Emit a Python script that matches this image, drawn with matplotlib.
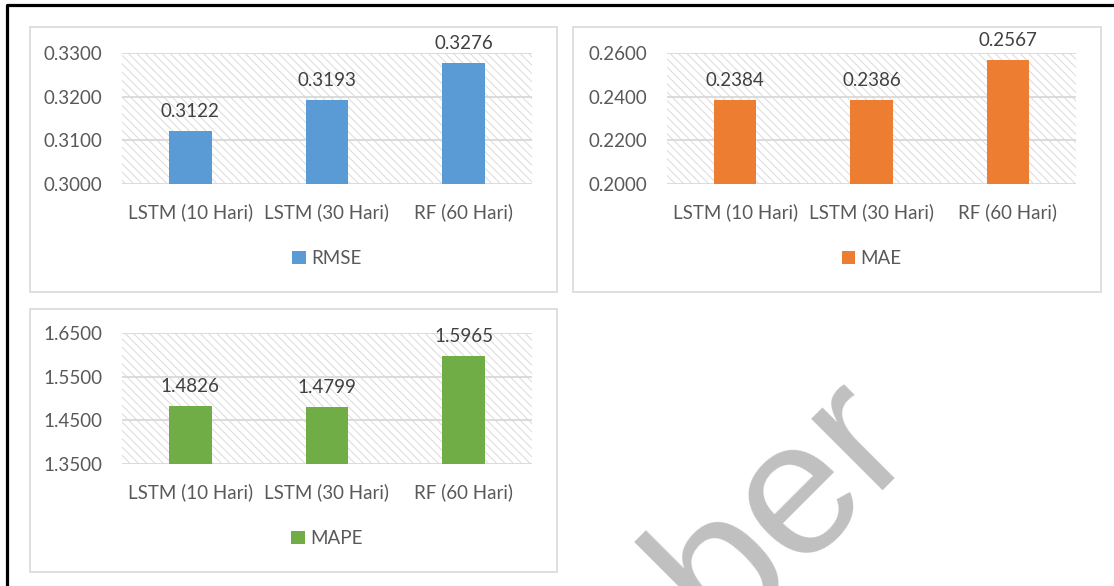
import matplotlib.pyplot as plt
from matplotlib.patches import Rectangle
from matplotlib.lines import Line2D

categories = ['LSTM (10 Hari)', 'LSTM (30 Hari)', 'RF (60 Hari)']

rmse = [0.3122, 0.3193, 0.3276]
mae = [0.2384, 0.2386, 0.2567]
mape = [1.4826, 1.4799, 1.5965]

rmse_ticks = [0.3000, 0.3100, 0.3200, 0.3300]
mae_ticks = [0.2000, 0.2200, 0.2400, 0.2600]
mape_ticks = [1.3500, 1.4500, 1.5500, 1.6500]

W, H = 1114, 586
plt.rcParams['font.family'] = ['Lato', 'DejaVu Sans']
plt.rcParams['hatch.linewidth'] = 0.7

fig = plt.figure(figsize=(W / 100, H / 100), dpi=100)


def px_box(x0, y0, x1, y1):
    # pixel box (top-left origin) -> figure fraction rect
    return [x0 / W, 1 - y1 / H, (x1 - x0) / W, (y1 - y0) / H]


def panel_frame(x0, y0, x1, y1):
    l, b, w, h = px_box(x0, y0, x1, y1)
    fig.patches.append(Rectangle((l, b), w, h, transform=fig.transFigure,
                                 facecolor='none', edgecolor='#D9D9D9',
                                 linewidth=1.2, zorder=-1))


def bar_panel(rect, values, ticks, color, name):
    ax = fig.add_axes(rect)
    ax.set_facecolor('none')
    x = range(len(categories))
    ax.set_xlim(-0.5, 2.5)
    ax.set_ylim(ticks[0], ticks[-1])

    # diagonal hatched plot area
    ax.add_patch(Rectangle((0, 0), 1, 1, transform=ax.transAxes,
                           facecolor='none', edgecolor='#DADADA',
                           linewidth=0, hatch='\\\\\\\\', zorder=0))
    for t in ticks:
        ax.axhline(t, color='#D9D9D9', linewidth=1.3, zorder=1)

    bars = ax.bar(x, values, width=0.31, color=color, zorder=2, label=name)
    for b, v in zip(bars, values):
        ax.annotate(f'{v:.4f}', (b.get_x() + b.get_width() / 2, v),
                    xytext=(0, 8), textcoords='offset points',
                    ha='center', va='bottom', fontsize=13.5, color='#404040')

    ax.set_xticks(list(x))
    ax.set_xticklabels(categories, fontsize=13.5, color='#595959')
    ax.set_yticks(ticks)
    ax.set_yticklabels([f'{t:.4f}' for t in ticks], fontsize=13.5, color='#595959')
    ax.tick_params(length=0)
    ax.tick_params(axis='x', pad=14)
    ax.tick_params(axis='y', pad=14)
    for s in ax.spines.values():
        s.set_visible(False)

    ax.legend(loc='center', bbox_to_anchor=(0.5, -0.57), frameon=False,
              fontsize=13.5, labelcolor='#595959', handlelength=0.7,
              handleheight=0.7, handletextpad=0.3)
    return ax


panel_frame(30, 27, 557, 292)
panel_frame(573, 27, 1101, 292)
panel_frame(30, 309, 557, 572)

bar_panel(px_box(122, 53, 532, 184), rmse, rmse_ticks, '#5B9BD5', 'RMSE')
bar_panel(px_box(667, 53, 1076, 184), mae, mae_ticks, '#ED7D31', 'MAE')
bar_panel(px_box(122, 333, 532, 464), mape, mape_ticks, '#70AD47', 'MAPE')

# outer frame (left and top edges)
fig.lines.append(Line2D([7 / W, 7 / W, 1.0], [0.0, 1 - 5 / H, 1 - 5 / H],
                        transform=fig.transFigure, color='black', linewidth=2.3))

# watermark
fig.text(720 / W, 1 - 641 / H, 'ber', rotation=45, rotation_mode='anchor',
         ha='left', va='baseline', fontsize=138, color='#C0C0C0',
         family='Liberation Sans', zorder=10)

fig.savefig('out.png', dpi=100)
